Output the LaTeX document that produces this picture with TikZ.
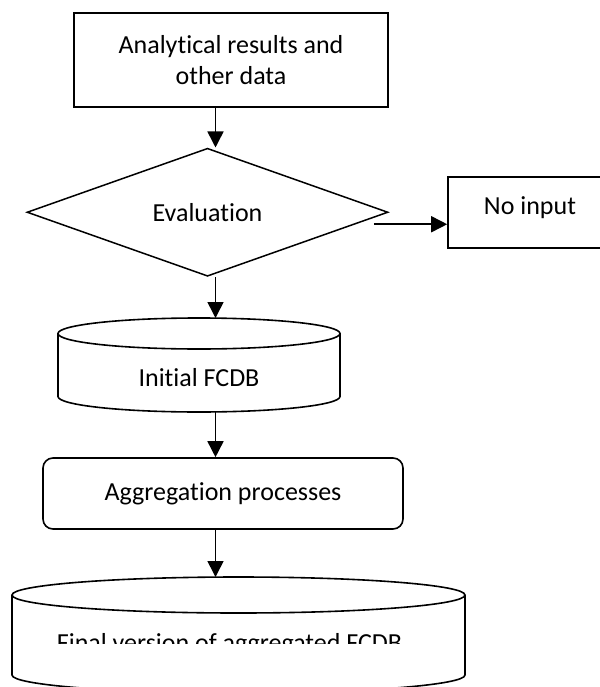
\documentclass[tikz,border=0pt]{standalone}
\usepackage{fontspec}
\setmainfont{Carlito}[Ligatures=NoCommon]
\usetikzlibrary{shapes.geometric}
\usetikzlibrary{arrows.meta}

% outline of a drum (database) round a node: name, x radius, y radius
\newcommand{\drawdrum}[3]{%
  \draw[line width=1.6pt] ([yshift=-#3]#1.north west) -- ([yshift=#3]#1.south west)
    arc[start angle=180, end angle=360, x radius=#2, y radius=#3]
    -- ([yshift=-#3]#1.north east)
    arc[start angle=0, end angle=360, x radius=#2, y radius=#3];
}

\tikzset{
  every node/.style={font=\fontsize{26}{31.7}\selectfont},
  block/.style={draw, line width=1.6pt, rectangle, align=center},
  decision/.style={draw, line width=1.5pt, diamond, inner sep=0pt},
  process/.style={block, rounded corners=10pt},
  store/.style={rectangle, outer sep=0pt, inner sep=0pt},
  flow/.style={line width=1.6pt, -{Triangle[length=16pt,width=16pt]}}
}

\begin{document}
\begin{tikzpicture}[x=1pt, y=1pt]
    \useasboundingbox (0,0) rectangle (599,-687);
    \coordinate (spine) at (215.5,0); % the arrows run down this line

    \node[block, minimum width=314pt, minimum height=94pt] (data) at (231,-60)
        {Analytical results and\\ other data};
    \node[decision, minimum width=361pt, minimum height=117.5pt] (eval) at (207.5,-212.25)
        {Evaluation};
    \node[block, minimum width=164pt, minimum height=71pt, text height=17pt, text depth=13pt]
        (noinput) at (530,-212.5) {No input};
    \node[store, minimum width=282pt, minimum height=94pt, text height=42pt, text depth=0pt]
        (init) at (199,-365) {Initial FCDB};
    \drawdrum{init}{141pt}{15.5pt}
    \node[process, minimum width=360pt, minimum height=71pt] (agg) at (223,-493.5)
        {Aggregation processes};
    \begin{scope} % the label of the last drum is cut in half
        \clip (0,-577) rectangle (599,-643);
        \node[store, minimum width=453pt, minimum height=116pt, text height=32pt, text depth=0pt]
            (final) at (238.5,-635) {Final version of aggregated FCDB\hspace*{18pt}};
    \end{scope}
    \drawdrum{final}{226.5pt}{18pt}

    % connectors
    \draw[flow] (data.south -| spine) -- (eval.north -| spine);
    \coordinate (nofrom) at ([shift={(-15pt,-12pt)}]eval.east);
    \draw[flow] (nofrom) -- (nofrom -| noinput.west);
    \draw[flow] (eval.south -| spine) -- (init.north -| spine);
    \draw[flow] (init.south -| spine) -- (agg.north -| spine);
    \draw[flow] (agg.south -| spine) -- (final.north -| spine);
\end{tikzpicture}
\end{document}
